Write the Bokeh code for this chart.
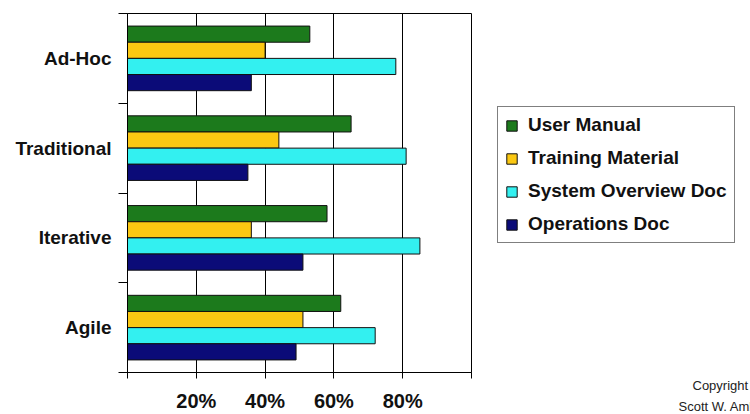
from bokeh.plotting import figure
from bokeh.layouts import row
from bokeh.models import FixedTicker, Legend, LegendItem, Title, Range1d
from bokeh.embed import file_html
from bokeh.resources import INLINE

# ---- data (bottom to top) ----
categories = ["Agile", "Iterative", "Traditional", "Ad-Hoc"]
series_names = ["User Manual", "Training Material", "System Overview Doc", "Operations Doc"]
user_manual = [62, 58, 65, 53]
training_material = [51, 36, 44, 40]
system_overview_doc = [72, 85, 81, 78]
operations_doc = [49, 51, 35, 36]
x_ticks = [0, 20, 40, 60, 80, 100]
x_tick_labels = ["", "20%", "40%", "60%", "80%", ""]
copyright_lines = ["Copyright", "Scott W. Ambler"]

series_values = [user_manual, training_material, system_overview_doc, operations_doc]
colors = ["#1c7a1c", "#fbc812", "#33f0f0", "#0b0b78"]
offsets = [0.27, 0.09, -0.09, -0.27]
bar_h = 0.18

FONT = "Liberation Sans"
TXT = "#111111"

# ---------------- main chart ----------------
p = figure(width=473, height=414, output_backend="svg", toolbar_location=None,
           x_range=Range1d(0, 100), y_range=Range1d(0, len(categories)),
           min_border_left=127, min_border_right=2, min_border_top=13,
           min_border_bottom=40)
p.background_fill_color = "white"
p.border_fill_color = "white"
p.outline_line_color = "black"
p.outline_line_width = 1

for vals, col, off in zip(series_values, colors, offsets):
    ys = [i + 0.5 + off for i in range(len(categories))]
    p.hbar(y=ys, left=0, right=vals, height=bar_h, fill_color=col,
           line_color=TXT, line_width=1)

p.xaxis.ticker = FixedTicker(ticks=x_ticks)
p.xaxis.major_label_overrides = {t: l for t, l in zip(x_ticks, x_tick_labels)}
p.xaxis.major_label_text_font = FONT
p.xaxis.major_label_text_font_style = "bold"
p.xaxis.major_label_text_font_size = "20px"
p.xaxis.major_label_text_color = TXT
p.xaxis.major_label_standoff = 11
p.xaxis.major_tick_out = 6
p.xaxis.major_tick_in = 0
p.xaxis.minor_tick_line_color = None
p.xaxis.axis_line_color = "black"
p.xaxis.major_tick_line_color = "black"

cat_pos = [i + 0.5 for i in range(len(categories))]
p.yaxis.ticker = FixedTicker(ticks=cat_pos, minor_ticks=list(range(len(categories) + 1)))
p.yaxis.major_label_overrides = {t: c for t, c in zip(cat_pos, categories)}
p.yaxis.major_label_text_font = FONT
p.yaxis.major_label_text_font_style = "bold"
p.yaxis.major_label_text_font_size = "19px"
p.yaxis.major_label_text_color = TXT
p.yaxis.major_label_standoff = 7
p.yaxis.major_tick_out = 0
p.yaxis.major_tick_in = 0
p.yaxis.major_tick_line_color = None
p.yaxis.minor_tick_out = 9
p.yaxis.minor_tick_in = 0
p.yaxis.minor_tick_line_color = "black"
p.yaxis.axis_line_color = "black"

p.xgrid.ticker = FixedTicker(ticks=x_ticks)
p.xgrid.grid_line_color = "black"
p.xgrid.grid_line_width = 1
p.ygrid.grid_line_color = None

# ---------------- legend / note panel ----------------
q = figure(width=277, height=414, output_backend="svg", toolbar_location=None,
           x_range=Range1d(0, 277), y_range=Range1d(0, 414),
           x_axis_location=None, y_axis_location=None,
           min_border=0, min_border_left=0, min_border_right=0,
           min_border_top=0, min_border_bottom=0)
q.outline_line_color = None
q.background_fill_color = "white"
q.border_fill_color = "white"
q.xgrid.grid_line_color = None
q.ygrid.grid_line_color = None

# zero-size proxies so the legend can draw its swatches
legend_renderers = []
for col in colors:
    r = q.hbar(y=[0], left=[0], right=[0], height=0, fill_color=col,
               line_color=TXT, line_width=1)
    legend_renderers.append(r)

legend = Legend(
    items=[LegendItem(label=n, renderers=[r]) for n, r in zip(series_names, legend_renderers)],
    location=(24, 129),
    label_text_font=FONT, label_text_font_style="bold", label_text_font_size="19px",
    label_text_color=TXT,
    glyph_width=13, glyph_height=13, label_height=20, spacing=11, padding=7,
    label_standoff=10, margin=0,
    border_line_color="black", border_line_width=1,
    background_fill_color="white", background_fill_alpha=1,
)
q.add_layout(legend)

q.add_layout(Title(text=copyright_lines[0], align="left", offset=219, standoff=7,
                   text_font=FONT, text_font_size="13px", text_font_style="normal",
                   text_color="#222222"), "below")
q.add_layout(Title(text=copyright_lines[1], align="left", offset=205, standoff=0,
                   text_font=FONT, text_font_size="13px", text_font_style="normal",
                   text_color="#222222"), "below")

layout = row(p, q, spacing=0)
open("out.html", "w").write(file_html(layout, INLINE))
